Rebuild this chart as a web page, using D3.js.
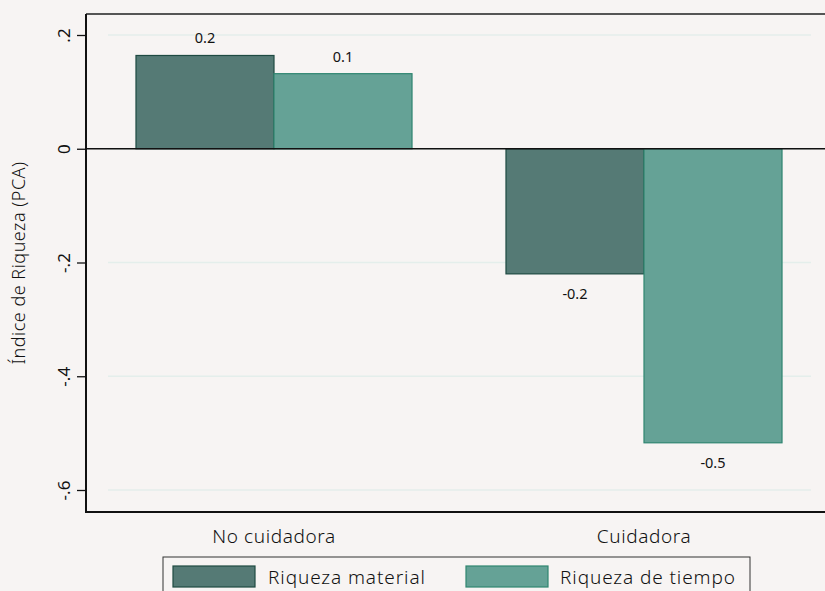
<!DOCTYPE html>
<html>
<head>
<meta charset="utf-8">
<script src="https://cdn.jsdelivr.net/npm/d3@7"></script>
<style>
  html, body { margin: 0; padding: 0; background: #f7f4f3; }
  svg { display: block; }
  text { font-family: "Noto Sans", "Open Sans", sans-serif; fill: #111; }
</style>
</head>
<body>
<svg id="chart" width="825" height="591"></svg>
<script>
// Wealth index by caregiver status
const categories = ["No cuidadora", "Cuidadora"];
const seriesNames = ["Riqueza material", "Riqueza de tiempo"];
const riquezaMaterial = [0.164, -0.220];
const riquezaTiempo = [0.132, -0.517];
const yTicks = [0.2, 0, -0.2, -0.4, -0.6];
const yTickLabels = [".2", "0", "-.2", "-.4", "-.6"];

const fills = ["#557a75", "#65a296"];
const strokes = ["#1e4a42", "#2f8570"];

const W = 825, H = 591;
const plot = { left: 86, right: 833, top: 14, bottom: 512 };

const svg = d3.select("#chart");
svg.append("rect").attr("width", W).attr("height", H).attr("fill", "#f7f4f3");

const y = d3.scaleLinear()
  .domain([-0.6, 0.2])
  .range([490, 35]);

const x0 = d3.scaleBand()
  .domain(categories)
  .range([89, 829])
  .paddingInner(0.254)
  .paddingOuter(0.127);

const x1 = d3.scaleBand()
  .domain(seriesNames)
  .range([0, x0.bandwidth()]);

// grid lines
svg.append("g")
  .selectAll("line")
  .data(yTicks)
  .join("line")
  .attr("x1", 108).attr("x2", 811)
  .attr("y1", d => y(d)).attr("y2", d => y(d))
  .attr("stroke", "#e4eeeb").attr("stroke-width", 1.5);

// top border
svg.append("line")
  .attr("x1", plot.left).attr("x2", W)
  .attr("y1", plot.top).attr("y2", plot.top)
  .attr("stroke", "#555").attr("stroke-width", 2);

const rows = categories.map((c, i) => ({
  cat: c,
  vals: [riquezaMaterial[i], riquezaTiempo[i]]
}));

const groups = svg.append("g")
  .selectAll("g")
  .data(rows)
  .join("g")
  .attr("transform", d => `translate(${x0(d.cat)},0)`);

groups.selectAll("rect")
  .data(d => d.vals.map((v, j) => ({ v, j })))
  .join("rect")
  .attr("x", d => x1(seriesNames[d.j]))
  .attr("width", x1.bandwidth())
  .attr("y", d => y(Math.max(0, d.v)))
  .attr("height", d => Math.abs(y(d.v) - y(0)))
  .attr("fill", d => fills[d.j])
  .attr("stroke", d => strokes[d.j])
  .attr("stroke-width", 1.2);

const fmt = d3.formatLocale({
  decimal: ".", thousands: ",", grouping: [3], currency: ["", ""], minus: "-"
}).format(".1f");

groups.selectAll("text.val")
  .data(d => d.vals.map((v, j) => ({ v, j })))
  .join("text")
  .attr("class", "val")
  .attr("x", d => x1(seriesNames[d.j]) + x1.bandwidth() / 2)
  .attr("y", d => d.v >= 0 ? y(d.v) - 12 : y(d.v) + 25)
  .attr("text-anchor", "middle")
  .attr("font-size", 14.5)
  .attr("fill", "#1a1a1a")
  .text(d => fmt(d.v));

// zero line
svg.append("line")
  .attr("x1", plot.left).attr("x2", W)
  .attr("y1", y(0)).attr("y2", y(0))
  .attr("stroke", "#111").attr("stroke-width", 1.5);

// y axis
const yAxis = d3.axisLeft(y)
  .tickValues(yTicks)
  .tickSize(9)
  .tickFormat((d, i) => yTickLabels[i]);

const gy = svg.append("g")
  .attr("transform", `translate(${plot.left},0)`)
  .call(yAxis);
gy.select(".domain")
  .attr("d", `M0,${plot.top}V${plot.bottom}`)
  .attr("stroke", "#111").attr("stroke-width", 2);
gy.selectAll(".tick line").attr("stroke", "#111").attr("stroke-width", 1.3);
gy.selectAll(".tick text")
  .attr("font-size", 17)
  .attr("font-family", "'Noto Sans', sans-serif")
  .attr("fill", "#111")
  .attr("transform", "rotate(-90)")
  .attr("x", 0)
  .attr("y", -16)
  .attr("dy", 0)
  .attr("text-anchor", "middle");

// x axis line
svg.append("line")
  .attr("x1", plot.left - 1).attr("x2", W)
  .attr("y1", plot.bottom).attr("y2", plot.bottom)
  .attr("stroke", "#111").attr("stroke-width", 2);

// category labels
svg.append("g")
  .selectAll("text")
  .data(categories)
  .join("text")
  .attr("x", d => x0(d) + x0.bandwidth() / 2)
  .attr("y", 543)
  .attr("text-anchor", "middle")
  .attr("font-size", 19)
  .attr("font-weight", 300)
  .attr("fill", "#0a0a0a")
  .attr("letter-spacing", 0.6)
  .text(d => d);

// y title
svg.append("text")
  .attr("transform", `translate(25,263) rotate(-90)`)
  .attr("text-anchor", "middle")
  .attr("font-size", 18)
  .attr("font-weight", 300)
  .attr("fill", "#0a0a0a")
  .attr("letter-spacing", 0.5)
  .text("Índice de Riqueza (PCA)");

// legend
const legend = svg.append("g");
legend.append("rect")
  .attr("x", 163).attr("y", 557)
  .attr("width", 587).attr("height", 50)
  .attr("fill", "#f7f4f3")
  .attr("stroke", "#333").attr("stroke-width", 1);

const legendItems = [
  { name: seriesNames[0], sx: 173, tx: 268 },
  { name: seriesNames[1], sx: 466, tx: 560 }
];
legendItems.forEach((d, i) => {
  legend.append("rect")
    .attr("x", d.sx).attr("y", 566)
    .attr("width", 82).attr("height", 21)
    .attr("fill", fills[i])
    .attr("stroke", strokes[i]).attr("stroke-width", 1.2);
  legend.append("text")
    .attr("x", d.tx).attr("y", 584)
    .attr("font-size", 19)
    .attr("font-weight", 300)
    .attr("fill", "#0a0a0a")
    .attr("letter-spacing", 0.9)
    .text(d.name);
});
</script>
</body>
</html>
